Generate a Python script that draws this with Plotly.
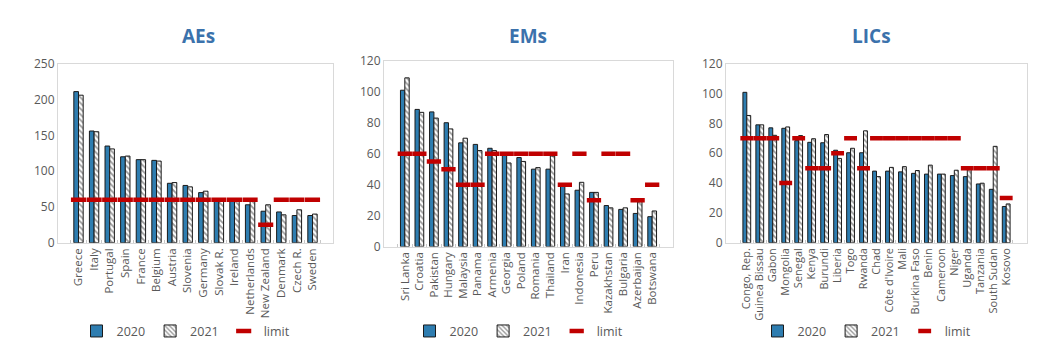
import plotly.graph_objects as go
from plotly.subplots import make_subplots

# ---------------- data ----------------
ae_countries = ["Greece", "Italy", "Portugal", "Spain", "France", "Belgium", "Austria",
                "Slovenia", "Germany", "Slovak R.", "Ireland", "Netherlands",
                "New Zealand", "Denmark", "Czech R.", "Sweden"]
ae_2020 = [211, 156, 135, 120, 116, 115, 83, 80, 70, 60, 60, 53, 44, 43, 38, 38]
ae_2021 = [206, 155, 131, 121, 116, 114, 84, 78, 72, 59, 58, 60, 53, 39, 46, 40]
ae_limit = [60, 60, 60, 60, 60, 60, 60, 60, 60, 60, 60, 60, 25, 60, 60, 60]

em_countries = ["Sri Lanka", "Croatia", "Pakistan", "Hungary", "Malaysia", "Panama",
                "Armenia", "Georgia", "Poland", "Romania", "Thailand", "Iran",
                "Indonesia", "Peru", "Kazakhstan", "Bulgaria", "Azerbaijan", "Botswana"]
em_2020 = [101, 88.6, 87, 80, 67, 66, 63.5, 60, 57.5, 50, 50, 40, 36.4, 35, 26.5, 24, 21.4, 19.3]
em_2021 = [109, 86.7, 83, 76, 70, 62, 62, 54, 55, 51, 58.5, 34, 41.5, 35, 25, 25, 29, 23]
em_limit = [60, 60, 55, 50, 40, 40, 60, 60, 60, 60, 60, 40, 60, 30, 60, 60, 30, 40]

lic_countries = ["Congo, Rep.", "Guinea Bissau", "Gabon", "Mongolia", "Senegal", "Kenya",
                 "Burundi", "Liberia", "Togo", "Rwanda", "Chad", "Côte d'Ivoire", "Mali",
                 "Burkina Faso", "Benin", "Cameroon", "Niger", "Uganda", "Tanzania",
                 "South Sudan", "Kosovo"]
lic_2020 = [100.8, 79, 77, 76.7, 68.4, 67.3, 67, 62, 60.3, 60.3, 48, 48, 47.5, 46.5, 46, 46,
            45, 44.3, 39.4, 35.8, 24.3]
lic_2021 = [85.3, 79, 72, 77.6, 71.8, 69.7, 72.5, 56.5, 63.3, 75, 44.3, 50.5, 51, 48.4, 52,
            46, 48.6, 49, 39.9, 64.6, 26]
lic_limit = [70, 70, 70, 40, 70, 50, 50, 60, 70, 50, 70, 70, 70, 70, 70, 70, 70, 50, 50, 50, 30]

titles = ["AEs", "EMs", "LICs"]
year_names = ["2020", "2021", "limit"]

# ---------------- styling ----------------
BLUE = "#2E7DB0"
RED = "#C00000"
GRAY = "#595959"
TITLE_BLUE = "#3B72AC"
FONT = "Open Sans"

fig = make_subplots(rows=1, cols=3)

panels = [
    (ae_countries, ae_2020, ae_2021, ae_limit, 10.8, "legend", 11.5),
    (em_countries, em_2020, em_2021, em_limit, 10.2, "legend2", 11.5),
    (lic_countries, lic_2020, lic_2021, lic_limit, 9.2, "legend3", 11),
]

for i, (cats, v20, v21, lim, msize, leg, fs) in enumerate(panels):
    col = i + 1
    fig.add_trace(go.Bar(
        x=cats, y=v20, name=year_names[0], legend=leg,
        marker=dict(color=BLUE, line=dict(color="#1a1a1a", width=1)),
        width=0.3, offset=-0.3,
    ), row=1, col=col)
    fig.add_trace(go.Bar(
        x=cats, y=v21, name=year_names[1], legend=leg,
        marker=dict(color="white", line=dict(color="#1a1a1a", width=1),
                    pattern=dict(shape="\\", fgcolor="#333333", bgcolor="white",
                                 size=4, solidity=0.45)),
        width=0.3, offset=0.0,
    ), row=1, col=col)
    fig.add_trace(go.Scatter(
        x=cats, y=lim, name=year_names[2], legend=leg, mode="markers",
        marker=dict(symbol="line-ew", size=msize,
                    line=dict(color=RED, width=4.5), color=RED),
    ), row=1, col=col)

# domains (pixel based on 1038x358)
W, H = 1038, 358
xdom = [(50, 325), (376, 665), (718, 1019)]
ydom = [(49, 237), (46, 241), (49, 237)]
yranges = [[0, 250], [0, 120], [0, 120]]
dticks = [50, 20, 20]
axis_names = [("xaxis", "yaxis"), ("xaxis2", "yaxis2"), ("xaxis3", "yaxis3")]
cat_lists = [ae_countries, em_countries, lic_countries]

for i, (xa, ya) in enumerate(axis_names):
    fig.layout[xa].update(
        domain=[xdom[i][0] / W, xdom[i][1] / W],
        tickmode="array", tickvals=cat_lists[i], ticktext=cat_lists[i],
        tickangle=-90, showline=True, linecolor="#D9D9D9", mirror=True,
        tickfont=dict(family=FONT, size=panels[i][6], color=GRAY),
        ticks="inside", tickson="boundaries", ticklen=3, tickcolor="#C8C8C8",
        showgrid=False,
    )
    fig.layout[ya].update(
        domain=[1 - ydom[i][1] / H, 1 - ydom[i][0] / H],
        range=yranges[i], dtick=dticks[i], showline=True, linecolor="#D9D9D9",
        mirror=True, showgrid=False, zeroline=False, ticks="",
        tickfont=dict(family=FONT, size=12, color=GRAY),
    )

legend_cx = [178, 511, 859]
leg_common = dict(orientation="h", xanchor="center", yanchor="middle",
                  font=dict(family=FONT, size=12.5, color=GRAY),
                  bgcolor="rgba(0,0,0,0)", itemwidth=30, tracegroupgap=0)
fig.update_layout(
    legend=dict(x=legend_cx[0] / W, y=1 - 330 / H, **leg_common),
    legend2=dict(x=legend_cx[1] / W, y=1 - 330 / H, **leg_common),
    legend3=dict(x=legend_cx[2] / W, y=1 - 330 / H, **leg_common),
)

title_cx = [190, 520, 863]
for i, t in enumerate(titles):
    fig.add_annotation(text="<b>%s</b>" % t, x=title_cx[i] / W, y=1 - 20 / H,
                       xref="paper", yref="paper", showarrow=False,
                       xanchor="center", yanchor="middle",
                       font=dict(family=FONT, size=19, color=TITLE_BLUE))

fig.update_layout(
    width=W, height=H, margin=dict(l=0, r=0, t=0, b=0),
    paper_bgcolor="white", plot_bgcolor="white",
    barmode="overlay", showlegend=True,
    font=dict(family=FONT, color=GRAY),
)

fig.write_html("out.html")
